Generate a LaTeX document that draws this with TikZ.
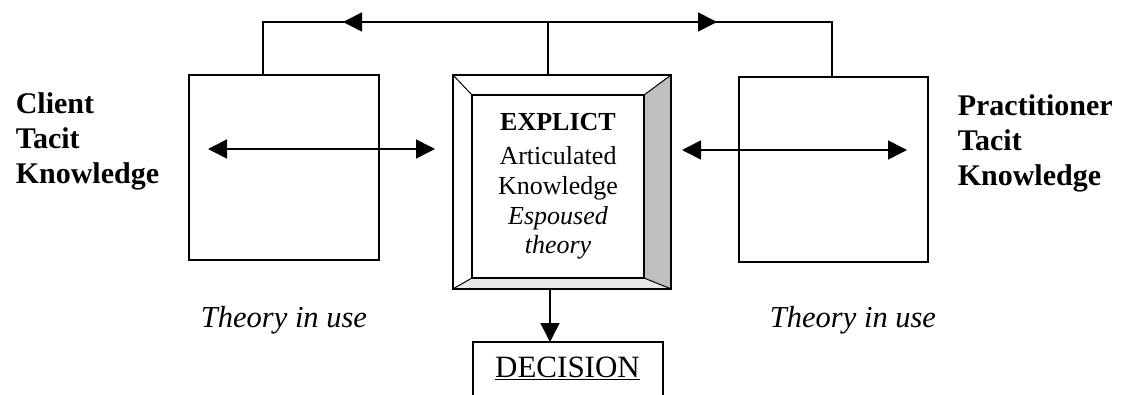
\documentclass[tikz,border=0pt]{standalone}
\usepackage{fontspec}
\setmainfont{Liberation Serif}
\usetikzlibrary{arrows.meta}
\begin{document}
\begin{tikzpicture}[x=1pt,y=-1pt,
  line width=1.6pt,
  plainbox/.style={draw, line width=1.6pt, inner sep=0pt},
  arr/.style={-{Triangle[length=19pt,width=19pt]}},
  dblarr/.style={{Triangle[length=19pt,width=19pt]}-{Triangle[length=19pt,width=19pt]}},
  sidelabel/.style={font=\bfseries\fontsize{30}{35}\selectfont, align=left, inner sep=0pt},
  uselabel/.style={font=\itshape\fontsize{30.5}{34}\selectfont, inner sep=0pt, anchor=base},
]
\clip (0,0) rectangle (1121,395);
\fill[white] (0,0) rectangle (1121,395);

% tacit knowledge boxes
\node[plainbox, minimum width=190pt, minimum height=185pt] (L) at (284,167.5) {};
\node[plainbox, minimum width=189pt, minimum height=185pt] (R) at (833.5,169.5) {};

% bevelled frame around the explicit knowledge
\node[inner sep=0pt, minimum width=216pt, minimum height=212pt] (C) at (562,182) {};
\coordinate (ci1) at (472,95);
\coordinate (ci2) at (644,278);
\fill[white] (C.north west) -- (C.north east) -- (ci2 |- ci1) -- (ci1) -- cycle;
\fill[white] (C.north west) -- (ci1) -- (ci1 |- ci2) -- (C.south west) -- cycle;
\fill[gray!50] (C.north east) -- (C.south east) -- (ci2) -- (ci2 |- ci1) -- cycle;
\fill[gray!18] (C.south west) -- (C.south east) -- (ci2) -- (ci1 |- ci2) -- cycle;
\draw (C.north west) rectangle (C.south east);
\draw[line width=1.2pt] (ci1) rectangle (ci2);
\draw[line width=1.0pt] (C.north west) -- (ci1)
  (C.north east) -- (ci2 |- ci1)
  (C.south west) -- (ci1 |- ci2)
  (C.south east) -- (ci2);

\node[inner sep=0pt, align=center, font=\fontsize{26}{30}\selectfont, anchor=north] (ctext) at (558,112)
  {\textbf{EXPLICT}\\[4pt] Articulated\\ Knowledge\\ \textit{Espoused}\\[-1pt] \textit{theory}};

% decision
\node[inner sep=0pt, font=\fontsize{31}{34}\selectfont, anchor=base] (D) at (567.5,377)
  {\underline{DECISION}};
\coordinate (dtl) at (473,342);
\coordinate (dtr) at (663,342);
\draw (dtl |- 0,400) -- (dtl) -- (dtr) -- (dtr |- 0,400);
\coordinate (cd) at (550,0);
\draw[arr] (C.south -| cd) -- (dtl -| cd);

% linking line across the top
\coordinate (tl) at (263,22);
\coordinate (tc) at (548,22);
\coordinate (tr) at (832,22);
\coordinate (al) at (343,22);
\coordinate (ar) at (717,22);
\draw (L.north -| tl) -- (tl) -- (tr) -- (R.north -| tr);
\draw (C.north -| tc) -- (tc);
\draw[arr] (tc) -- (al);
\draw[arr] (tc) -- (ar);

% exchanges between tacit and explicit knowledge
\coordinate (la) at (208,149);
\coordinate (lb) at (435,149);
\coordinate (ra) at (682,150);
\coordinate (rb) at (907,150);
\draw[dblarr] (la) -- (lb);
\draw[dblarr] (ra) -- (rb);

% side labels
\node[sidelabel, anchor=north west] (client) at (15,92) {Client\\ Tacit\\ Knowledge};
\node[sidelabel, anchor=north west] (pract) at (957,94) {Practitioner\\ Tacit\\ Knowledge};
\node[uselabel] (usel) at (284,327) {Theory in use};
\node[uselabel] (user) at (853,327) {Theory in use};
\end{tikzpicture}
\end{document}
